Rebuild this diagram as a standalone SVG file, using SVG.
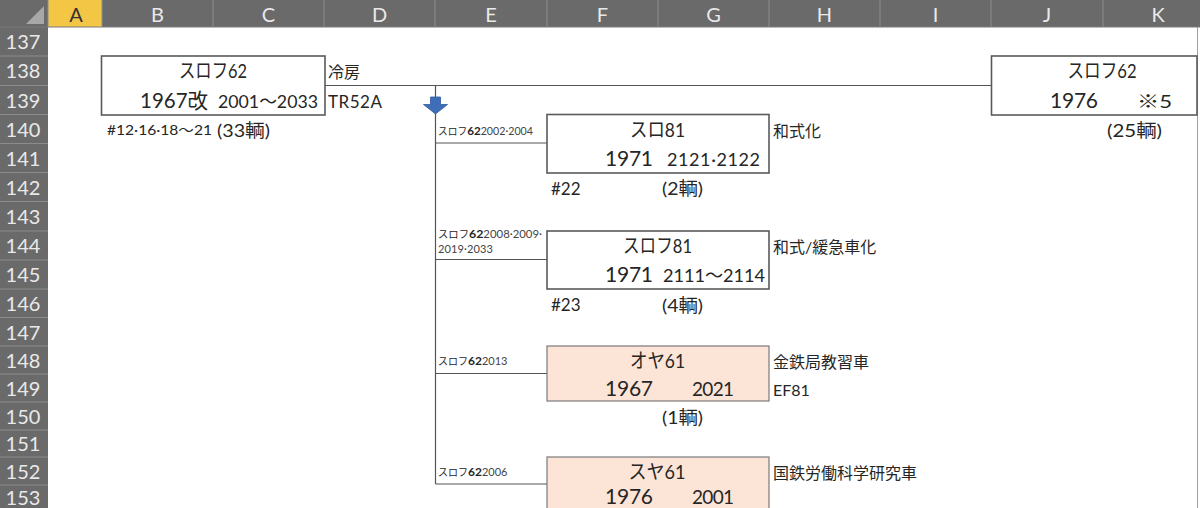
<svg xmlns="http://www.w3.org/2000/svg" width="1200" height="508" viewBox="0 0 1200 508">
<style>
.hdr{fill:#6a6a6a}
.sep{stroke:#8c8c8c;stroke-width:1}
.hl{font-family:"Lato","Noto Sans CJK JP",sans-serif;font-size:20px;fill:#e9e9e9;text-anchor:middle}
.t{font-family:"Lato","Noto Sans CJK JP",sans-serif;fill:#262626}
.box{fill:#ffffff;stroke:#5a5a5a;stroke-width:1.6}
.pk{fill:#fce4d6;stroke:#7a7a7a;stroke-width:1.2}
.ln{stroke:#555555;stroke-width:1.2;fill:none}
.ttl{font-size:20px;text-anchor:middle}
.big{font-size:21px}
.mid{font-size:18px}
.lab{font-size:16px}
.sn{font-size:11px}
.lk{fill:#262626}
.l62{font-size:12px;font-weight:bold}
.ln2{fill:#444}
</style>
<rect width="1200" height="508" fill="#ffffff"/>
<g id="sheet-frame">
<rect class="hdr" x="0" y="0" width="1200" height="27"/>
<rect class="hdr" x="0" y="27" width="48" height="481"/>
<rect x="48" y="0" width="54" height="27" fill="#f3c646"/>
<polygon points="44,6 44,24 26,24" fill="#a8a8a8"/>
<g class="sep">
<line x1="48" y1="0" x2="48" y2="27"/><line x1="102" y1="0" x2="102" y2="27"/><line x1="213" y1="0" x2="213" y2="27"/><line x1="324" y1="0" x2="324" y2="27"/><line x1="435" y1="0" x2="435" y2="27"/><line x1="547" y1="0" x2="547" y2="27"/><line x1="658" y1="0" x2="658" y2="27"/><line x1="769" y1="0" x2="769" y2="27"/><line x1="880" y1="0" x2="880" y2="27"/><line x1="991" y1="0" x2="991" y2="27"/><line x1="1103" y1="0" x2="1103" y2="27"/>
<line x1="0" y1="56" x2="48" y2="56"/><line x1="0" y1="85.5" x2="48" y2="85.5"/><line x1="0" y1="114.5" x2="48" y2="114.5"/><line x1="0" y1="143.5" x2="48" y2="143.5"/><line x1="0" y1="172.5" x2="48" y2="172.5"/><line x1="0" y1="201.5" x2="48" y2="201.5"/><line x1="0" y1="231" x2="48" y2="231"/><line x1="0" y1="260" x2="48" y2="260"/><line x1="0" y1="289" x2="48" y2="289"/><line x1="0" y1="317.5" x2="48" y2="317.5"/><line x1="0" y1="346" x2="48" y2="346"/><line x1="0" y1="374" x2="48" y2="374"/><line x1="0" y1="402" x2="48" y2="402"/><line x1="0" y1="430" x2="48" y2="430"/><line x1="0" y1="457" x2="48" y2="457"/><line x1="0" y1="485" x2="48" y2="485"/>
</g>
<line x1="0" y1="27" x2="1200" y2="27" stroke="#7a7a7a"/>
<line x1="1197.5" y1="27" x2="1197.5" y2="508" stroke="#a0a0a0"/>
<text class="hl" x="76" y="22" style="fill:#333333">A</text>
<text class="hl" x="157.5" y="22">B</text><text class="hl" x="268.5" y="22">C</text><text class="hl" x="379.5" y="22">D</text><text class="hl" x="491" y="22">E</text><text class="hl" x="602.5" y="22">F</text><text class="hl" x="713.5" y="22">G</text><text class="hl" x="824.5" y="22">H</text><text class="hl" x="935.5" y="22">I</text><text class="hl" x="1047" y="22">J</text><text class="hl" x="1158" y="22">K</text>
<text class="hl" x="23" y="49">137</text><text class="hl" x="23" y="78">138</text><text class="hl" x="23" y="107.5">139</text><text class="hl" x="23" y="136.5">140</text><text class="hl" x="23" y="165.5">141</text><text class="hl" x="23" y="194.5">142</text><text class="hl" x="23" y="223.5">143</text><text class="hl" x="23" y="253">144</text><text class="hl" x="23" y="282">145</text><text class="hl" x="23" y="311">146</text><text class="hl" x="23" y="339.5">147</text><text class="hl" x="23" y="367.5">148</text><text class="hl" x="23" y="395.5">149</text><text class="hl" x="23" y="423.5">150</text><text class="hl" x="23" y="451">151</text><text class="hl" x="23" y="478.5">152</text><text class="hl" x="23" y="505">153</text>
</g>
<g id="connectors">
<line class="ln" x1="325" y1="85.5" x2="991" y2="85.5"/>
<line class="ln" x1="435.5" y1="85.5" x2="435.5" y2="484"/>
<line class="ln" x1="435.5" y1="143" x2="547" y2="143"/>
<line class="ln" x1="435.5" y1="259.5" x2="547" y2="259.5"/>
<line class="ln" x1="435.5" y1="373.5" x2="547" y2="373.5"/>
<line class="ln" x1="435.5" y1="484" x2="547" y2="484"/>
<polygon points="430.5,97 440.5,97 440.5,104.5 447.5,104.5 435.5,114 423.5,104.5 430.5,104.5" fill="#3f6eb8" stroke="#2f5a9a" stroke-width="0.8"/>
<text class="t sn" x="438" y="135" textLength="95" lengthAdjust="spacingAndGlyphs"><tspan class="lk" font-size="10">スロフ</tspan><tspan class="l62">62</tspan><tspan class="ln2">2002·2004</tspan></text>
<text class="t sn" x="438" y="238" textLength="104" lengthAdjust="spacingAndGlyphs"><tspan class="lk" font-size="10">スロフ</tspan><tspan class="l62">62</tspan><tspan class="ln2">2008·2009·</tspan></text>
<text class="t sn ln2" x="438" y="253" textLength="55">2019·2033</text>
<text class="t sn" x="438" y="365"><tspan class="lk" font-size="10">スロフ</tspan><tspan class="l62">62</tspan><tspan class="ln2">2013</tspan></text>
<text class="t sn" x="438" y="476"><tspan class="lk" font-size="10">スロフ</tspan><tspan class="l62">62</tspan><tspan class="ln2">2006</tspan></text>
</g>
<g id="node-surofu62-1967">
<rect class="box" x="101.5" y="56" width="223.5" height="59"/>
<text class="t ttl" x="213" y="78" textLength="68" lengthAdjust="spacingAndGlyphs">スロフ62</text>
<text class="t big" x="140" y="108" textLength="68" lengthAdjust="spacingAndGlyphs">1967改</text>
<text class="t mid" x="218" y="107.5" textLength="100" lengthAdjust="spacingAndGlyphs">2001～2033</text>
<text class="t lab" x="328" y="78">冷房</text>
<text class="t" x="328" y="107.5" font-size="17" textLength="54">TR52A</text>
<text class="t" x="107" y="135" font-size="13.5" textLength="105" lengthAdjust="spacingAndGlyphs">#12·16·18～21</text>
<text class="t" x="217" y="136.5" font-size="18" textLength="53" lengthAdjust="spacingAndGlyphs">(33輌)</text>
</g>
<g id="node-surofu62-1976">
<rect class="box" x="991.5" y="56" width="205.5" height="59"/>
<text class="t ttl" x="1102" y="78" textLength="69" lengthAdjust="spacingAndGlyphs">スロフ62</text>
<text class="t big" x="1050" y="107.5" textLength="48">1976</text>
<text class="t mid" x="1137" y="107.5" textLength="35" lengthAdjust="spacingAndGlyphs">※5</text>
<text class="t" x="1107" y="136.5" font-size="18" textLength="55" lengthAdjust="spacingAndGlyphs">(25輌)</text>
</g>
<g id="node-suro81">
<rect class="box" x="547" y="114.5" width="222" height="58.5"/>
<text class="t ttl" x="657.5" y="136.5" textLength="55" lengthAdjust="spacingAndGlyphs">スロ81</text>
<text class="t big" x="605" y="166" textLength="48">1971</text>
<text class="t mid" x="667" y="166" textLength="93">2121·2122</text>
<text class="t lab" x="773" y="136.5">和式化</text>
<text class="t" x="551" y="194.5" font-size="17">#22</text>
<text class="t" x="662" y="195" font-size="18" textLength="41" lengthAdjust="spacingAndGlyphs">(2輌)</text>
</g>
<g id="node-surofu81">
<rect class="box" x="547" y="231" width="222" height="58"/>
<text class="t ttl" x="657.5" y="253" textLength="69" lengthAdjust="spacingAndGlyphs">スロフ81</text>
<text class="t big" x="605" y="282" textLength="48">1971</text>
<text class="t mid" x="663" y="282" textLength="102" lengthAdjust="spacingAndGlyphs">2111～2114</text>
<text class="t lab" x="773" y="253">和式/緩急車化</text>
<text class="t" x="551" y="311" font-size="17">#23</text>
<text class="t" x="662" y="311.5" font-size="18" textLength="41" lengthAdjust="spacingAndGlyphs">(4輌)</text>
</g>
<g id="node-oya61">
<rect class="pk" x="547" y="346" width="222" height="55"/>
<text class="t ttl" x="657.5" y="367.5" textLength="55" lengthAdjust="spacingAndGlyphs">オヤ61</text>
<text class="t big" x="605" y="395.5" textLength="48">1967</text>
<text class="t" x="692" y="395.5" font-size="19" textLength="42">2021</text>
<text class="t lab" x="773" y="367.5">金鉄局教習車</text>
<text class="t lab" x="773" y="395.5">EF81</text>
<text class="t" x="662" y="424" font-size="18" textLength="41" lengthAdjust="spacingAndGlyphs">(1輌)</text>
</g>
<g id="node-suya61">
<rect class="pk" x="547" y="457" width="222" height="60"/>
<text class="t ttl" x="657" y="478.5" textLength="57" lengthAdjust="spacingAndGlyphs">スヤ61</text>
<text class="t big" x="605" y="504" textLength="48">1976</text>
<text class="t" x="692" y="504" font-size="19" textLength="42">2001</text>
<text class="t lab" x="773" y="478.5" textLength="144">国鉄労働科学研究車</text>
</g>
</svg>
